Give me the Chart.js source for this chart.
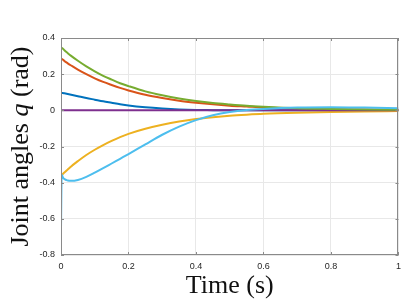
<!DOCTYPE html>
<html>
<head>
<meta charset="utf-8">
<script src="https://cdn.jsdelivr.net/npm/chart.js@4.4.1/dist/chart.umd.min.js"></script>
<style>
  html, body { margin: 0; padding: 0; background: #fff; }
  #wrap { width: 407px; height: 302px; position: relative; }
</style>
</head>
<body>
<div id="wrap"><canvas id="jointChart" width="407" height="302"></canvas></div>
<script>
// joint angle trajectories
const timeS = [0, 0.002, 0.005, 0.01, 0.02, 0.03, 0.05, 0.075, 0.1, 0.125, 0.15, 0.175, 0.2, 0.25, 0.3, 0.35, 0.4, 0.45, 0.5, 0.55, 0.6, 0.7, 0.8, 0.9, 1.0];

const q1 = [0.097, 0.096, 0.096, 0.094, 0.090, 0.086, 0.078, 0.068, 0.059, 0.050, 0.042, 0.034, 0.027, 0.017, 0.010, 0.005, 0.002, 0.001, 0, 0, 0, 0, 0, 0, 0];
const q2 = [0.286, 0.284, 0.281, 0.273, 0.260, 0.248, 0.225, 0.200, 0.177, 0.157, 0.140, 0.124, 0.110, 0.086, 0.068, 0.053, 0.042, 0.033, 0.026, 0.021, 0.016, 0.010, 0.006, 0.004, 0.002];
const q3 = [-0.362, -0.358, -0.353, -0.344, -0.327, -0.310, -0.281, -0.247, -0.218, -0.192, -0.169, -0.148, -0.130, -0.102, -0.080, -0.062, -0.048, -0.038, -0.030, -0.024, -0.019, -0.013, -0.009, -0.006, -0.004];
const q4 = [0, 0, 0, 0, 0, 0, 0, 0, 0, 0, 0, 0, 0, 0, 0, 0, 0, 0, 0, 0, 0, 0, 0, 0, 0];
const q5 = [0.348, 0.346, 0.342, 0.332, 0.316, 0.301, 0.274, 0.243, 0.216, 0.191, 0.170, 0.150, 0.134, 0.105, 0.083, 0.065, 0.051, 0.040, 0.032, 0.025, 0.020, 0.012, 0.008, 0.005, 0.003];
const q6 = [-0.66, -0.356, -0.368, -0.380, -0.388, -0.390, -0.385, -0.368, -0.345, -0.320, -0.294, -0.268, -0.242, -0.188, -0.135, -0.090, -0.054, -0.027, -0.009, 0.002, 0.008, 0.015, 0.017, 0.015, 0.012];

const xTicks = [0, 0.2, 0.4, 0.6, 0.8, 1];
const yTicks = [-0.8, -0.6, -0.4, -0.2, 0, 0.2, 0.4];

const AXIS_COLOR = "#8a8a8a";
const TEXT_COLOR = "#262626";

function pts(ys) {
  return timeS.map((t, i) => ({ x: t, y: ys[i] }));
}

// matlab draws later lines on top, chart.js draws the first dataset on top
const series = [
  { label: "q6", data: q6, color: "#4DBEEE" },
  { label: "q5", data: q5, color: "#77AC30" },
  { label: "q4", data: q4, color: "#7E2F8E" },
  { label: "q3", data: q3, color: "#EDB120" },
  { label: "q2", data: q2, color: "#D95319" },
  { label: "q1", data: q1, color: "#0072BD" },
];

// box around the axes, inward ticks, and the LaTeX-ish axis labels
const boxPlugin = {
  id: "boxAndLabels",
  afterDatasetsDraw(chart) {
    const { ctx, chartArea: a, scales } = chart;
    ctx.save();
    ctx.strokeStyle = AXIS_COLOR;
    ctx.lineWidth = 1;
    ctx.strokeRect(Math.round(a.left) + 0.5, Math.round(a.top) + 0.5,
                   Math.round(a.right - a.left) - 1, Math.round(a.bottom - a.top) - 1);
    const len = 3;
    ctx.beginPath();
    xTicks.forEach(v => {
      const x = Math.round(scales.x.getPixelForValue(v)) + 0.5;
      ctx.moveTo(x, a.bottom); ctx.lineTo(x, a.bottom - len);
      ctx.moveTo(x, a.top); ctx.lineTo(x, a.top + len);
    });
    yTicks.forEach(v => {
      const y = Math.round(scales.y.getPixelForValue(v)) + 0.5;
      ctx.moveTo(a.left, y); ctx.lineTo(a.left + len, y);
      ctx.moveTo(a.right, y); ctx.lineTo(a.right - len, y);
    });
    ctx.stroke();
    ctx.restore();
  },
  afterDraw(chart) {
    const { ctx, chartArea: a } = chart;
    const serif = "\"Liberation Serif\", \"Times New Roman\", serif";
    ctx.save();
    ctx.fillStyle = "#111";

    // x label
    ctx.font = "26px " + serif;
    ctx.textAlign = "center";
    ctx.textBaseline = "alphabetic";
    ctx.fillText("Time (s)", (a.left + a.right) / 2, 293);

    // y label, with italic q
    const parts = [
      { t: "Joint angles ", f: "26px " + serif },
      { t: "q", f: "italic 26px " + serif },
      { t: " (rad)", f: "26px " + serif },
    ];
    let total = 0;
    parts.forEach(p => { ctx.font = p.f; p.w = ctx.measureText(p.t).width; total += p.w; });
    ctx.translate(28, (a.top + a.bottom) / 2);
    ctx.rotate(-Math.PI / 2);
    ctx.textAlign = "left";
    let x = -total / 2;
    parts.forEach(p => { ctx.font = p.f; ctx.fillText(p.t, x, 0); x += p.w; });
    ctx.restore();
  },
};

const ctx = document.getElementById("jointChart").getContext("2d");
const chart = new Chart(ctx, {
  type: "line",
  data: {
    datasets: series.map(s => ({
      label: s.label,
      data: pts(s.data),
      borderColor: s.color,
      backgroundColor: s.color,
      borderWidth: 2,
      pointRadius: 0,
      cubicInterpolationMode: "monotone",
      fill: false,
    })),
  },
  options: {
    responsive: false,
    devicePixelRatio: 1,
    animation: false,
    layout: { padding: { left: 0, right: 7, top: 38, bottom: 0 } },
    plugins: { legend: { display: false }, tooltip: { enabled: false } },
    scales: {
      x: {
        type: "linear",
        min: 0, max: 1,
        afterBuildTicks: s => { s.ticks = xTicks.map(v => ({ value: v })); },
        afterFit: s => { s.height = 47; },
        grid: { color: "#e8e8e8", drawTicks: false },
        border: { display: false },
        ticks: {
          padding: 6,
          color: TEXT_COLOR,
          font: { family: "\"Liberation Sans\", Arial, sans-serif", size: 9 },
          callback: v => String(Number(v.toFixed(1))),
          maxRotation: 0,
        },
      },
      y: {
        min: -0.8, max: 0.4,
        afterBuildTicks: s => { s.ticks = yTicks.map(v => ({ value: v })); },
        afterFit: s => { s.width = 61; },
        grid: { color: "#e8e8e8", drawTicks: false },
        border: { display: false },
        ticks: {
          padding: 6,
          color: TEXT_COLOR,
          font: { family: "\"Liberation Sans\", Arial, sans-serif", size: 9 },
          callback: v => String(Number(v.toFixed(1))),
        },
      },
    },
  },
  plugins: [boxPlugin],
});
</script>
</body>
</html>
